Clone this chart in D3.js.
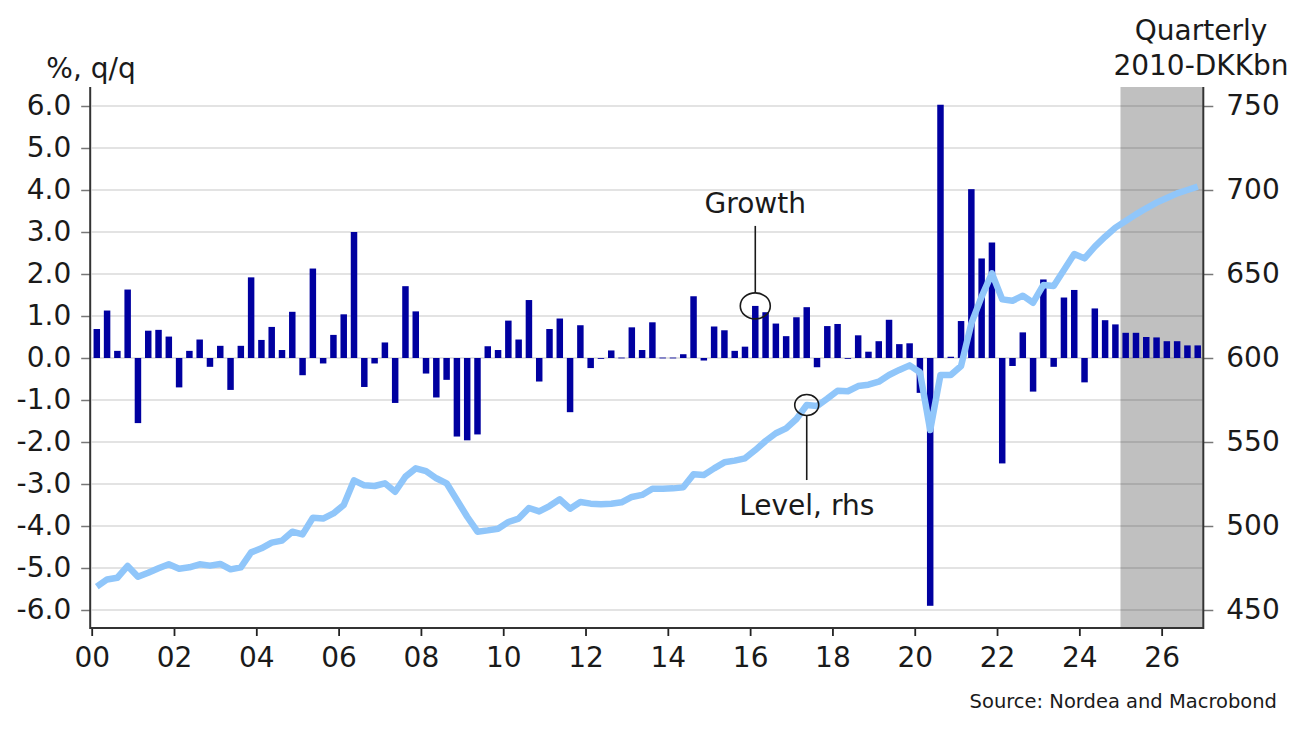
<!DOCTYPE html>
<html>
<head>
<meta charset="utf-8">
<script src="https://cdn.jsdelivr.net/npm/d3@7"></script>
<style>
  html, body { margin: 0; padding: 0; background: #fff; }
  svg text { font-family: "DejaVu Sans", "Noto Sans", sans-serif; fill: #1a1a1a; }
</style>
</head>
<body>
<svg id="chart" width="1300" height="731"></svg>
<script>
// ---- data ----
const startYear = 2000;
const quarterCount = 108; // 2000Q1 .. 2026Q4
const growth = [
  0.69, 1.13, 0.17, 1.63, -1.55, 0.65, 0.67, 0.51,
  -0.70, 0.17, 0.44, -0.21, 0.29, -0.76, 0.29, 1.92,
  0.43, 0.74, 0.19, 1.10, -0.41, 2.13, -0.13, 0.55,
  1.04, 3.00, -0.69, -0.13, 0.37, -1.07, 1.71, 1.11,
  -0.37, -0.94, -0.52, -1.87, -1.96, -1.82, 0.28, 0.19,
  0.89, 0.44, 1.38, -0.56, 0.69, 0.94, -1.29, 0.78,
  -0.24, -0.02, 0.18, 0.01, 0.73, 0.19, 0.85, 0.01,
  0.01, 0.09, 1.47, -0.06, 0.75, 0.66, 0.17, 0.27,
  1.24, 1.09, 0.82, 0.52, 0.97, 1.21, -0.22, 0.76,
  0.81, -0.02, 0.54, 0.15, 0.40, 0.91, 0.33, 0.35,
  -0.83, -5.90, 6.03, 0.03, 0.88, 4.02, 2.37, 2.75,
  -2.51, -0.19, 0.61, -0.80, 1.87, -0.21, 1.44, 1.62,
  -0.58, 1.18, 0.90, 0.80, 0.60, 0.60, 0.50, 0.49,
  0.40, 0.40, 0.30, 0.30
];
const level = [
  463.9, 468.2, 469.2, 476.2, 469.8, 472.2, 474.8, 477.2,
  474.6, 475.4, 477.2, 476.4, 477.4, 474.2, 475.4, 484.3,
  486.7, 490.1, 491.3, 496.6, 495.0, 504.9, 504.4, 507.5,
  512.5, 527.2, 524.2, 523.8, 525.4, 520.4, 529.4, 534.3,
  532.7, 528.4, 525.4, 515.5, 505.5, 496.6, 497.4, 498.4,
  502.4, 504.4, 510.7, 508.7, 511.9, 515.9, 510.3, 514.3,
  513.3, 512.9, 513.3, 514.1, 517.3, 518.5, 522.2, 522.2,
  522.4, 523.0, 530.8, 530.4, 534.3, 537.9, 538.9, 540.3,
  545.2, 550.6, 555.2, 558.1, 563.7, 572.0, 571.4, 575.8,
  580.5, 580.2, 583.3, 584.1, 585.9, 589.9, 592.9, 595.6,
  591.5, 557.1, 589.9, 589.9, 595.2, 620.6, 636.5, 650.4,
  634.9, 634.1, 637.1, 632.9, 643.5, 642.9, 652.4, 661.9,
  659.3, 666.3, 672.2, 677.6, 681.5, 685.5, 689.1, 692.5,
  695.2, 698.0, 700.0, 702.0
];
const leftTicks = [-6, -5, -4, -3, -2, -1, 0, 1, 2, 3, 4, 5, 6];
const rightTicks = [450, 500, 550, 600, 650, 700, 750];
const yearTicks = [2000, 2002, 2004, 2006, 2008, 2010, 2012, 2014, 2016, 2018, 2020, 2022, 2024, 2026];
const forecastStart = 2025;
const leftTitle = "%, q/q";
const rightTitle = ["Quarterly", "2010-DKKbn"];
const annGrowth = { label: "Growth", quarter: 64 };
const annLevel = { label: "Level, rhs", quarter: 69 };
const sourceText = "Source: Nordea and Macrobond";

// ---- layout ----
const FONT = 28;
const X0 = 91.7, X1 = 1202.8, YT = 87, YB = 628;
const quarters = d3.range(quarterCount);
const svg = d3.select("#chart");

const xBand = d3.scaleBand().domain(quarters).range([X0, X1]).paddingInner(0.37).paddingOuter(0.18);
const xYear = d3.scaleLinear().domain([startYear, startYear + quarterCount / 4]).range([X0, X1]);
const yL = d3.scaleLinear().domain([-6, 6]).range([610, 106]);
const yR = d3.scaleLinear().domain([450, 750]).range([610, 106]);
const xc = i => xBand(i) + xBand.bandwidth() / 2;

// forecast shade
svg.append("rect")
  .attr("x", xYear(forecastStart)).attr("y", YT)
  .attr("width", X1 - xYear(forecastStart)).attr("height", YB - YT)
  .attr("fill", "#c0c0c0");

// gridlines
svg.append("g").selectAll("line").data(leftTicks).join("line")
  .attr("x1", X0).attr("x2", X1)
  .attr("y1", d => yL(d)).attr("y2", d => yL(d))
  .attr("stroke", "rgba(0,0,0,0.15)").attr("stroke-width", 1.5);

// bars
svg.append("g").selectAll("rect").data(quarters).join("rect")
  .attr("x", i => xBand(i))
  .attr("width", xBand.bandwidth())
  .attr("y", i => Math.min(yL(growth[i]), yL(0)))
  .attr("height", i => Math.max(Math.abs(yL(growth[i]) - yL(0)), 0.8))
  .attr("fill", "#0000a0");

// level line
svg.append("path")
  .datum(quarters)
  .attr("d", d3.line().x(i => xc(i)).y(i => yR(level[i])))
  .attr("fill", "none")
  .attr("stroke", "#90c6fa")
  .attr("stroke-width", 6.5)
  .attr("stroke-linejoin", "round");

// axes
const axisLeft = d3.axisLeft(yL).tickValues(leftTicks).tickSize(9).tickPadding(10)
  .tickFormat(d => d3.format(".1f")(d).replace("\u2212", "-"));
const gL = svg.append("g").attr("transform", `translate(${X0 - 1.5},0)`).call(axisLeft);
gL.select(".domain").remove();
gL.selectAll(".tick line").attr("stroke", "#777").attr("stroke-width", 1.5);
gL.selectAll(".tick text").attr("font-size", FONT).attr("font-family", "DejaVu Sans").attr("fill", "#1a1a1a");

const axisRight = d3.axisRight(yR).tickValues(rightTicks).tickFormat(d3.format("d")).tickSize(10).tickPadding(13);
const gR = svg.append("g").attr("transform", `translate(${X1 + 0.5},0)`).call(axisRight);
gR.select(".domain").remove();
gR.selectAll(".tick line").attr("stroke", "#777").attr("stroke-width", 1.5);
gR.selectAll(".tick text").attr("font-size", FONT).attr("font-family", "DejaVu Sans").attr("fill", "#1a1a1a");

const axisBottom = d3.axisBottom(xYear).tickValues(yearTicks).tickFormat(d => String(d).slice(2)).tickSize(8).tickPadding(11);
const gB = svg.append("g").attr("transform", `translate(0,${YB})`).call(axisBottom);
gB.select(".domain").remove();
gB.selectAll(".tick line").attr("stroke", "#222").attr("stroke-width", 1.8);
gB.selectAll(".tick text").attr("font-size", FONT).attr("font-family", "DejaVu Sans").attr("fill", "#1a1a1a");

// frame (left, bottom, right)
svg.append("path")
  .attr("d", `M${X0 - 1.5},${YT} V${YB} H${X1 + 0.5} V${YT}`)
  .attr("fill", "none").attr("stroke", "#333").attr("stroke-width", 2);

// titles
svg.append("text").attr("x", 91).attr("y", 78).attr("text-anchor", "middle")
  .attr("font-size", FONT).text(leftTitle);
svg.append("text").attr("x", 1201).attr("y", 40).attr("text-anchor", "middle")
  .attr("font-size", FONT).text(rightTitle[0]);
svg.append("text").attr("x", 1201).attr("y", 75).attr("text-anchor", "middle")
  .attr("font-size", FONT).text(rightTitle[1]);

// annotations
const gx = xc(annGrowth.quarter), gy = yL(growth[annGrowth.quarter]);
svg.append("ellipse").attr("cx", gx).attr("cy", gy).attr("rx", 15).attr("ry", 13)
  .attr("fill", "none").attr("stroke", "#1a1a1a").attr("stroke-width", 1.6);
svg.append("line").attr("x1", gx).attr("x2", gx).attr("y1", gy - 13).attr("y2", gy - 80)
  .attr("stroke", "#1a1a1a").attr("stroke-width", 1.6);
svg.append("text").attr("x", gx).attr("y", gy - 93).attr("text-anchor", "middle")
  .attr("font-size", FONT).text(annGrowth.label);

const lx = xc(annLevel.quarter), ly = yR(level[annLevel.quarter]);
svg.append("ellipse").attr("cx", lx).attr("cy", ly).attr("rx", 12).attr("ry", 10.5)
  .attr("fill", "none").attr("stroke", "#1a1a1a").attr("stroke-width", 1.6);
svg.append("line").attr("x1", lx).attr("x2", lx).attr("y1", ly + 10.5).attr("y2", ly + 75)
  .attr("stroke", "#1a1a1a").attr("stroke-width", 1.6);
svg.append("text").attr("x", lx).attr("y", ly + 110).attr("text-anchor", "middle")
  .attr("font-size", FONT).text(annLevel.label);

// source
svg.append("text").attr("x", 1277).attr("y", 708).attr("text-anchor", "end")
  .attr("font-size", 19.5).text(sourceText);
</script>
</body>
</html>
